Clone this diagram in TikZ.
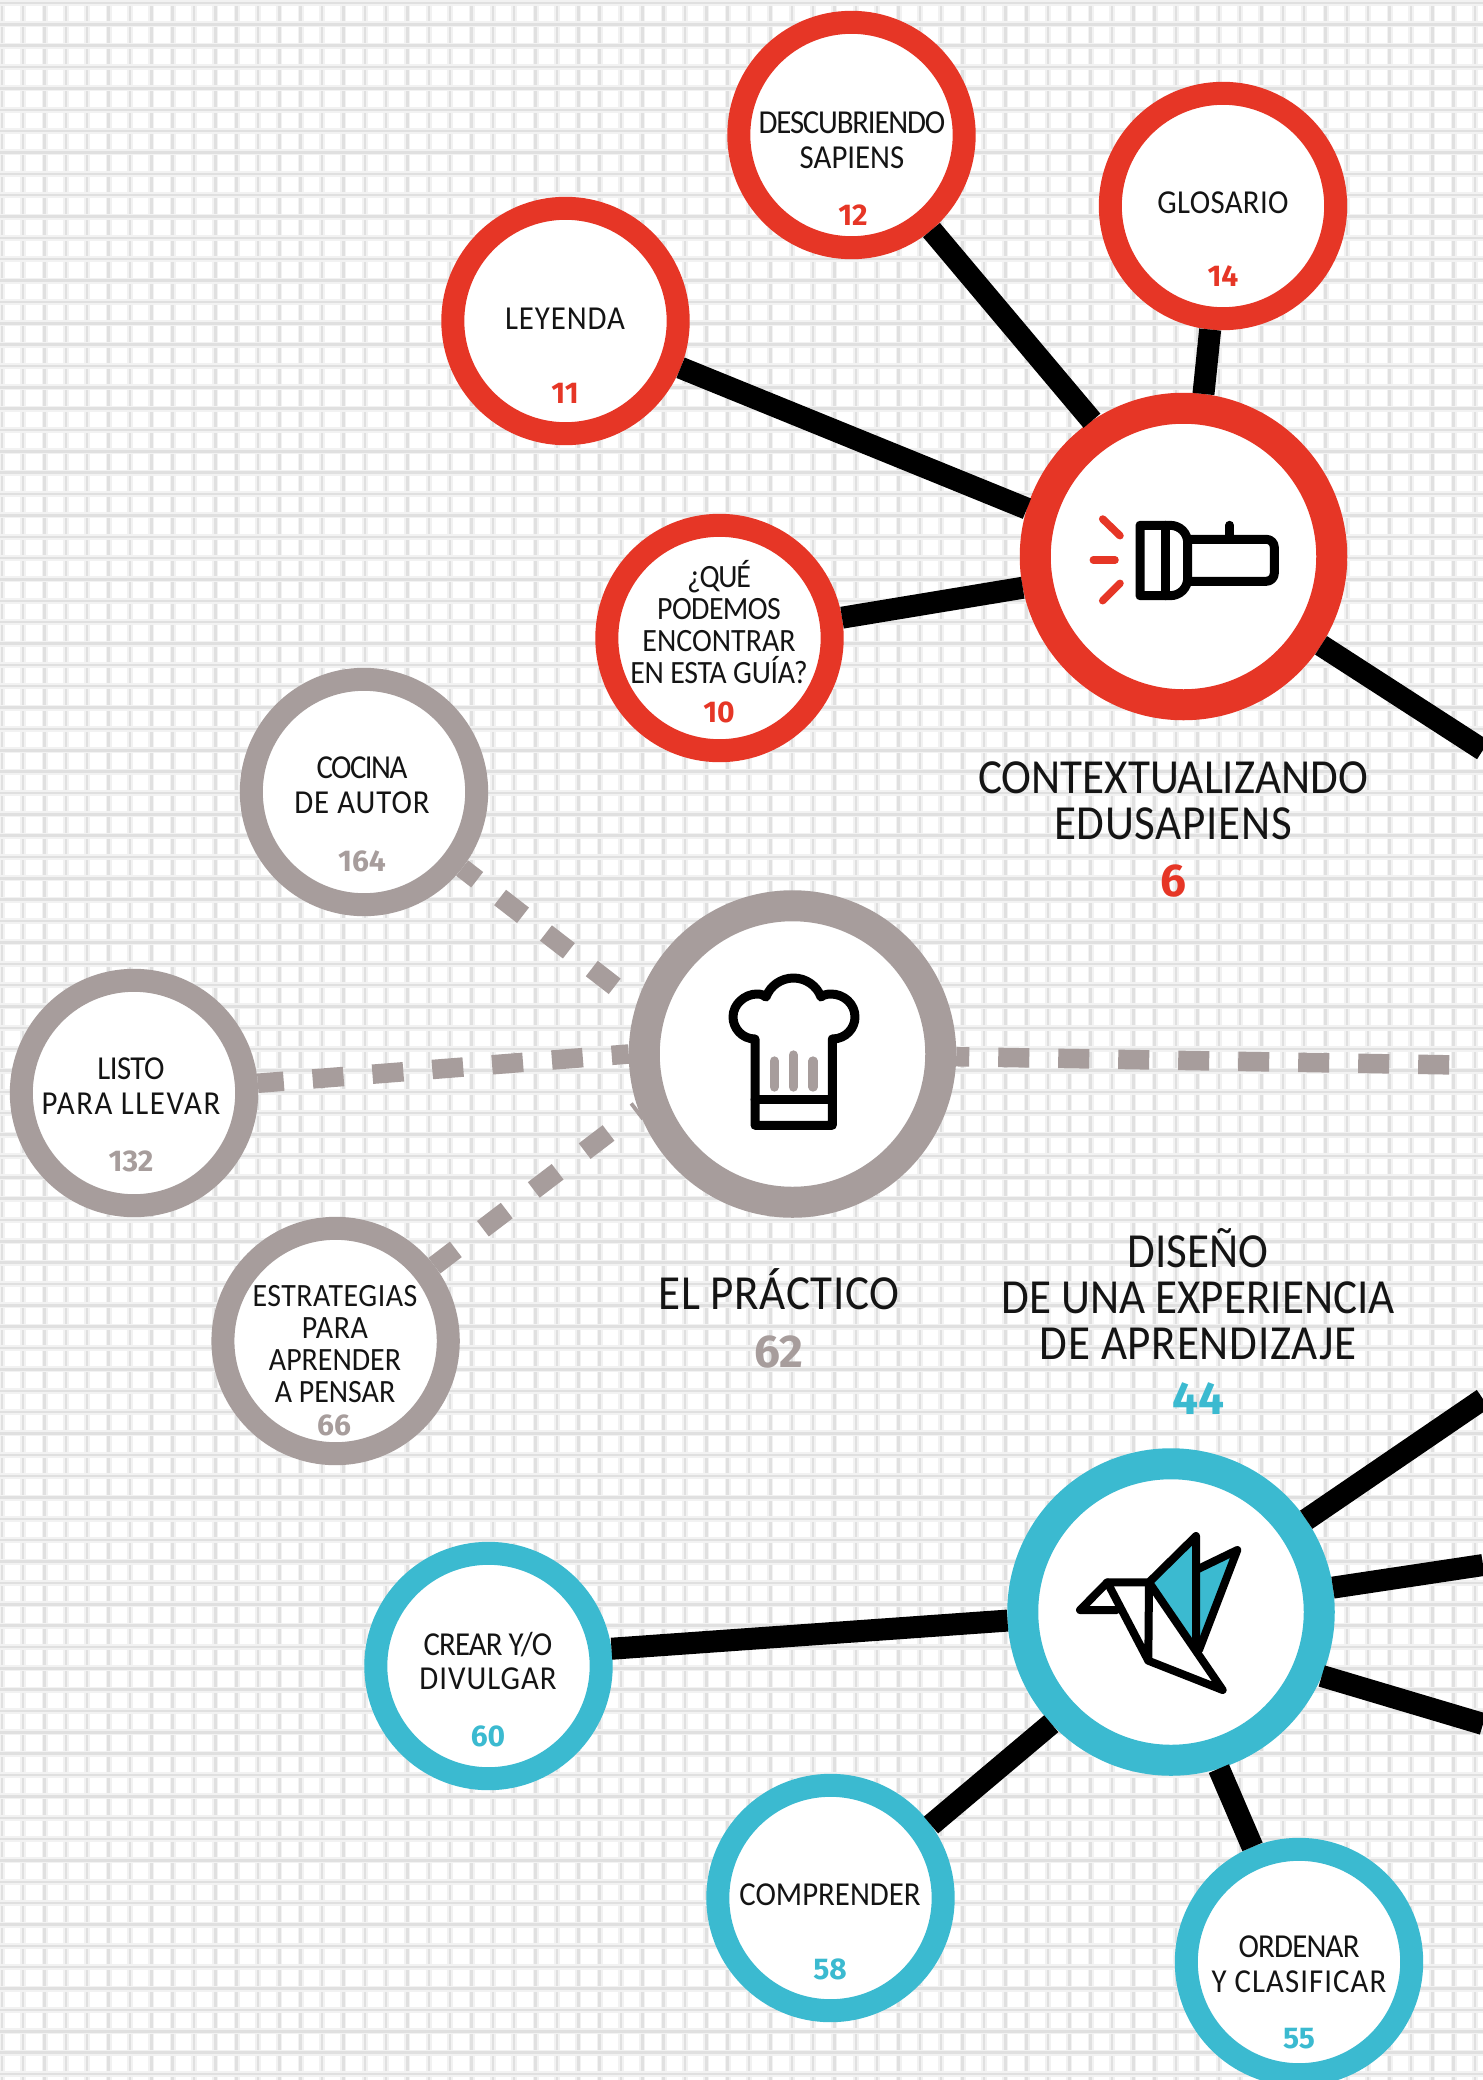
\documentclass[tikz,border=0pt]{standalone}
\usepackage{fontspec}
\setmainfont{Carlito}[FakeStretch=0.92]
\newfontfamily\numfont{Fira Sans}[BoldFont={Fira Sans Bold}]
\usetikzlibrary{shapes,arrows,positioning}
\definecolor{ringred}{HTML}{E63626}
\definecolor{ringgray}{HTML}{A79D9C}
\definecolor{ringblue}{HTML}{3BBAD0}
\newcommand{\trk}[2]{{\addfontfeature{LetterSpace=#1}#2}}
\tikzset{
  gridhalo/.style = {black!5, line width=6pt},
  gridline/.style = {black!12, line width=2.5pt},
  smallring/.style = {circle, fill=white, line width=23pt, minimum size=225.4pt, inner sep=0pt},
  bigring/.style = {circle, fill=white, line width=31pt, minimum size=296.5pt, inner sep=0pt},
  smalltext/.style = {align=center, inner sep=0pt, text=black!92, font=\fontsize{33.5}{34.5}\selectfont},
  tighttext/.style = {align=center, inner sep=0pt, text=black!92, font=\fontsize{32.5}{32.3}\selectfont},
  bigtext/.style = {align=center, inner sep=0pt, text=black!92, font=\fontsize{49}{46}\selectfont},
  smallnum/.style = {inner sep=0pt, font=\numfont\bfseries\fontsize{30}{30}\selectfont},
  bignum/.style = {inner sep=0pt, font=\numfont\bfseries\fontsize{46}{46}\selectfont},
  blackedge/.style = {black, line width=22pt},
  dashedge/.style = {ringgray, line width=19.5pt, dash pattern=on 29pt off 29pt},
  iconline/.style = {black, line width=9pt, line join=round, line cap=round},
}
\begin{document}
\begin{tikzpicture}[x=1pt,y=-1pt]
      \useasboundingbox (0,0) rectangle (1483,2080);
      \fill[white] (0,0) rectangle (1483,2080);
      \foreach \n in {0,...,69} {
        \draw[gridhalo] ({1.8+21.35*\n},0) -- ({1.8+21.35*\n},2080);
        \draw[gridline] ({1.8+21.35*\n},0) -- ({1.8+21.35*\n},2080);
      }
      \foreach \n in {0,...,97} {
        \draw[gridhalo] (0,{3+21.35*\n}) -- (1483,{3+21.35*\n});
        \draw[gridline] (0,{3+21.35*\n}) -- (1483,{3+21.35*\n});
      }

      \node [bigring, draw=ringred] (context) at (1183.5,556.5) {};
      \node [bigring, draw=ringgray] (practico) at (792.5,1054) {};
      \node [bigring, draw=ringblue] (diseno) at (1171,1612) {};
      \node [smallring, draw=ringred] (leyenda) at (565.5,321) {};
      \node [smallring, draw=ringred] (descubriendo) at (851.5,135) {};
      \node [smallring, draw=ringred] (glosario) at (1223,206) {};
      \node [smallring, draw=ringred] (que) at (719.5,638) {};
      \node [smallring, draw=ringgray] (cocina) at (364,792) {};
      \node [smallring, draw=ringgray] (listo) at (134,1093) {};
      \node [smallring, draw=ringgray] (estrategias) at (335.6,1341) {};
      \node [smallring, draw=ringblue] (crear) at (488.5,1666) {};
      \node [smallring, draw=ringblue] (comprender) at (830.5,1898) {};
      \node [smallring, draw=ringblue] (ordenar) at (1299,1962) {};

      \coordinate (contextout) at (1483,750);
      \coordinate (practicoout) at (1459,1065);
      \coordinate (disenoup) at (1483,1399);
      \coordinate (disenoright) at (1483,1565);
      \coordinate (disenodown) at (1483,1724);

      \path (leyenda) edge[blackedge] (context.163);
      \path (descubriendo) edge[blackedge] (context.124);
      \path (glosario) edge[blackedge] (context.83);
      \path (que) edge[blackedge] (context.191);
      \path (context) edge[blackedge] (contextout);
      \path (crear.8) edge[blackedge] (diseno.183);
      \path (comprender.36) edge[blackedge] (diseno.223);
      \path (ordenar.112) edge[blackedge] (diseno.287);
      \path (diseno) edge[blackedge] (disenoup);
      \path (diseno) edge[blackedge] (disenoright);
      \path (diseno.337) edge[blackedge] (disenodown);
      \path (practico) edge[dashedge, dash pattern=on 31pt off 29pt, dash phase=18pt] (practicoout);
      \path (listo) edge[dashedge, dash pattern=on 31pt off 29pt, dash phase=5pt] (practico.west);
      \path (cocina) edge[dashedge, dash phase=10pt] (practico.162);
      \path (estrategias) edge[dashedge, dash pattern=on 30pt off 34pt, dash phase=3pt] (practico.200);

      % labels in the rings
      \node [smalltext] (leyendatxt) at (565,319) {\trk{2.8}{LEYENDA}};
      \node [smallnum, ringred] (leyendanum) at (565,393) {11};
      \node [smalltext] (descubriendotxt) at (852,140) {\trk{-3.5}{DESCUBRIENDO}\\SAPIENS};
      \node [smallnum, ringred] (descubriendonum) at (853,215) {12};
      \node [smalltext] (glosariotxt) at (1223,203) {\trk{1}{GLOSARIO}};
      \node [smallnum, ringred] (glosarionum) at (1223,276) {14};
      \node [tighttext] (quetxt) at (719,622) {\trk{-4}{¿QUÉ}\\\trk{-1.9}{PODEMOS}\\ENCONTRAR\\\trk{-1}{EN ESTA GUÍA?}};
      \node [smallnum, ringred] (quenum) at (719,712) {10};
      \node [smalltext] (cocinatxt) at (362,785) {\trk{-4.6}{COCINA}\\\trk{3}{DE AUTOR}};
      \node [smallnum, ringgray] (cocinanum) at (362,861) {164};
      \node [smalltext] (listotxt) at (131,1086) {\trk{-1.6}{LISTO}\\\trk{4.7}{PARA LLEVAR}};
      \node [smallnum, ringgray] (listonum) at (131,1161) {132};
      \node [tighttext] (estrategiastxt) at (335,1344) {\trk{1.5}{ESTRATEGIAS}\\\trk{2}{PARA}\\APRENDER\\A PENSAR};
      \node [smallnum, ringgray] (estrategiasnum) at (334,1425) {66};
      \node [smalltext] (creartxt) at (488,1661) {\trk{-2.6}{CREAR Y/O}\\\trk{3}{DIVULGAR}};
      \node [smallnum, ringblue] (crearnum) at (488,1736) {60};
      \node [smalltext] (comprendertxt) at (830,1895) {COMPRENDER};
      \node [smallnum, ringblue] (comprendernum) at (830,1969) {58};
      \node [smalltext] (ordenartxt) at (1299,1964) {\trk{-2.3}{ORDENAR}\\\trk{3.2}{Y CLASIFICAR}};
      \node [smallnum, ringblue] (ordenarnum) at (1299,2039) {55};

      % titles
      \node [bigtext] (contexttxt) at (1173,801) {CONTEXTUALIZANDO\\\trk{1.4}{EDUSAPIENS}};
      \node [bignum, ringred] (contextnum) at (1173,881) {6};
      \node [bigtext] (practicotxt) at (779,1289) {\trk{1.2}{EL PRÁCTICO}};
      \node [bignum, ringgray] (practiconum) at (779,1352) {62};
      \node [bigtext] (disenotxt) at (1198,1294) {DISEÑO\\DE UNA EXPERIENCIA\\\trk{1.5}{DE APRENDIZAJE}};
      \node [bignum, ringblue] (disenonum) at (1198,1399) {44};

      % torch
      \draw[iconline] (1140,525.3) -- (1140,595.7) -- (1170,595.7) .. controls (1180,595.7) and (1187.7,588) .. (1187.7,578) -- (1187.7,543) .. controls (1187.7,533) and (1180,525.3) .. (1170,525.3) -- cycle;
      \draw[iconline] (1165.7,525.3) -- (1165.7,595.7);
      \draw[iconline, rounded corners=8pt] (1187.7,539.3) -- (1274.3,539.3) -- (1274.3,581.3) -- (1187.7,581.3);
      \draw[iconline] (1229.7,525.3) -- (1229.7,539.3);
      \draw[ringred, line width=7.5pt, line cap=round] (1102.7,519) -- (1120,535.7);
      \draw[ringred, line width=7.5pt, line cap=round] (1093.3,560) -- (1115,560);
      \draw[ringred, line width=7.5pt, line cap=round] (1102.7,600.7) -- (1120,583.3);

      % chef hat
      \draw[iconline] (755,1039) .. controls (742,1039) and (733,1028) .. (733,1017) .. controls (733,1004) and (745,994) .. (757,994) .. controls (761,994) and (764,995) .. (766,997) .. controls (770,986) and (781,978) .. (793.5,978) .. controls (806,978) and (817,986) .. (821,997) .. controls (823,995) and (827,994) .. (831,994) .. controls (844,994) and (855,1004) .. (855,1017) .. controls (855,1028) and (846,1039) .. (832.3,1039) -- (832.3,1125.3) -- (755,1125.3) -- cycle;
      \draw[iconline] (755,1099.3) -- (832.3,1099.3);
      \draw[ringgray, line width=9.3pt, line cap=round] (774.3,1061) -- (774.3,1087);
      \draw[ringgray, line width=9.3pt, line cap=round] (793.3,1055) -- (793.3,1087);
      \draw[ringgray, line width=9.3pt, line cap=round] (813,1061) -- (813,1087);

      % bird
      \fill[ringblue] (1149,1582.3) -- (1196,1536) -- (1196,1646.7) -- cycle;
      \fill[ringblue] (1196,1570) -- (1237.3,1550) -- (1199,1650) -- cycle;
      \draw[iconline, line width=8pt] (1116.7,1610) -- (1080,1610) -- (1107.3,1582.3) -- (1149,1582.3) -- (1196,1536) -- (1196,1646.7);
      \draw[iconline, line width=8pt] (1107.3,1582.3) -- (1148.3,1660.7) -- (1222.7,1690) -- (1149,1582.3) -- (1148.3,1660.7);
      \draw[iconline, line width=8pt] (1196,1570) -- (1237.3,1550) -- (1199,1650);
      \end{tikzpicture}
\end{document}
